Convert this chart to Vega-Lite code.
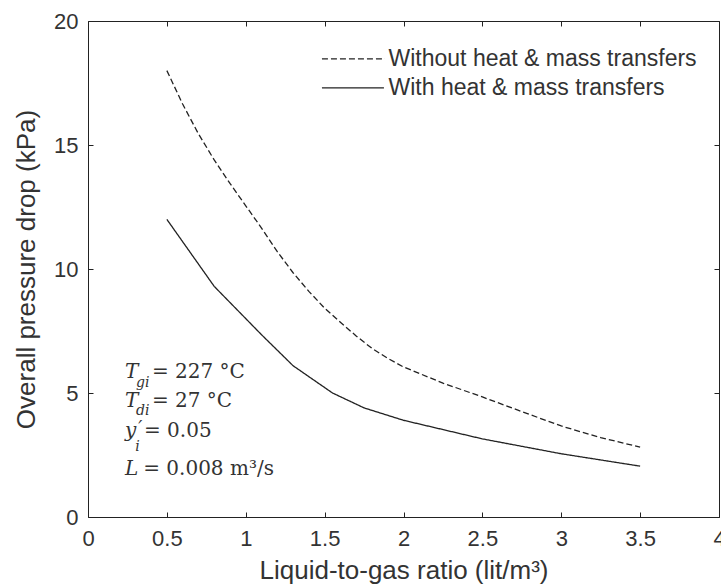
{
  "$schema": "https://vega.github.io/schema/vega-lite/v6.json",
  "autosize": "none",
  "width": 631,
  "height": 496,
  "padding": {"left": 88, "top": 21, "right": 2, "bottom": 71},
  "background": "white",
  "config": {
    "view": {"stroke": "#222", "strokeWidth": 1},
    "font": "Liberation Sans"
  },
  "datasets": {
    "curves": [
      {"ratio": 0.5, "drop": 18.0, "series": "Without heat & mass transfers"},
      {"ratio": 0.6, "drop": 16.65, "series": "Without heat & mass transfers"},
      {"ratio": 0.7, "drop": 15.45, "series": "Without heat & mass transfers"},
      {"ratio": 0.8, "drop": 14.4, "series": "Without heat & mass transfers"},
      {"ratio": 0.9, "drop": 13.45, "series": "Without heat & mass transfers"},
      {"ratio": 1.0, "drop": 12.55, "series": "Without heat & mass transfers"},
      {"ratio": 1.1, "drop": 11.65, "series": "Without heat & mass transfers"},
      {"ratio": 1.2, "drop": 10.7, "series": "Without heat & mass transfers"},
      {"ratio": 1.3, "drop": 9.85, "series": "Without heat & mass transfers"},
      {"ratio": 1.4, "drop": 9.1, "series": "Without heat & mass transfers"},
      {"ratio": 1.5, "drop": 8.42, "series": "Without heat & mass transfers"},
      {"ratio": 1.6, "drop": 7.85, "series": "Without heat & mass transfers"},
      {"ratio": 1.7, "drop": 7.3, "series": "Without heat & mass transfers"},
      {"ratio": 1.8, "drop": 6.8, "series": "Without heat & mass transfers"},
      {"ratio": 1.9, "drop": 6.4, "series": "Without heat & mass transfers"},
      {"ratio": 2.0, "drop": 6.05, "series": "Without heat & mass transfers"},
      {"ratio": 2.25, "drop": 5.4, "series": "Without heat & mass transfers"},
      {"ratio": 2.5, "drop": 4.84, "series": "Without heat & mass transfers"},
      {"ratio": 2.75, "drop": 4.25, "series": "Without heat & mass transfers"},
      {"ratio": 3.0, "drop": 3.67, "series": "Without heat & mass transfers"},
      {"ratio": 3.25, "drop": 3.2, "series": "Without heat & mass transfers"},
      {"ratio": 3.5, "drop": 2.82, "series": "Without heat & mass transfers"},
      {"ratio": 0.5, "drop": 12.0, "series": "With heat & mass transfers"},
      {"ratio": 0.8, "drop": 9.3, "series": "With heat & mass transfers"},
      {"ratio": 1.1, "drop": 7.35, "series": "With heat & mass transfers"},
      {"ratio": 1.3, "drop": 6.1, "series": "With heat & mass transfers"},
      {"ratio": 1.55, "drop": 5.0, "series": "With heat & mass transfers"},
      {"ratio": 1.75, "drop": 4.4, "series": "With heat & mass transfers"},
      {"ratio": 2.0, "drop": 3.9, "series": "With heat & mass transfers"},
      {"ratio": 2.5, "drop": 3.15, "series": "With heat & mass transfers"},
      {"ratio": 3.0, "drop": 2.55, "series": "With heat & mass transfers"},
      {"ratio": 3.5, "drop": 2.05, "series": "With heat & mass transfers"}
    ],
    "one": [{}]
  },
  "layer": [
    {
      "data": {"name": "curves"},
      "mark": {"type": "line", "color": "#222", "strokeWidth": 1.3},
      "encoding": {
        "x": {
          "field": "ratio", "type": "quantitative",
          "scale": {"domain": [0, 4], "nice": false, "zero": false},
          "axis": {
            "orient": "bottom", "values": [0, 0.5, 1, 1.5, 2, 2.5, 3, 3.5, 4],
            "format": "~g",
            "grid": false, "domain": false, "tickSize": -5, "tickColor": "#222",
            "labelFontSize": 22, "labelColor": "#333", "labelPadding": 16,
            "labelFlush": false,
            "title": "Liquid-to-gas ratio (lit/m³)", "titleFontSize": 26,
            "titleFontWeight": "normal", "titleColor": "#333", "titlePadding": 8
          }
        },
        "y": {
          "field": "drop", "type": "quantitative",
          "scale": {"domain": [0, 20], "nice": false},
          "axis": {
            "orient": "left", "values": [0, 5, 10, 15, 20],
            "grid": false, "domain": false, "tickSize": -5, "tickColor": "#222",
            "labelFontSize": 22, "labelColor": "#333", "labelPadding": 15,
            "labelFlush": false,
            "title": "Overall pressure drop (kPa)", "titleFontSize": 26,
            "titleFontWeight": "normal", "titleColor": "#333", "titlePadding": 14
          }
        },
        "strokeDash": {
          "field": "series", "type": "nominal",
          "scale": {
            "domain": ["Without heat & mass transfers", "With heat & mass transfers"],
            "range": [[6, 3], [1, 0]]
          },
          "legend": null
        }
      }
    },
    {
      "data": {"name": "curves"},
      "mark": {"type": "point", "opacity": 0},
      "encoding": {
        "x": {
          "field": "ratio", "type": "quantitative",
          "axis": {
            "orient": "top", "values": [0, 0.5, 1, 1.5, 2, 2.5, 3, 3.5, 4],
            "grid": false, "domain": false, "tickSize": -5, "tickColor": "#222",
            "labels": false, "title": null
          }
        },
        "y": {
          "field": "drop", "type": "quantitative",
          "axis": {
            "orient": "right", "values": [0, 5, 10, 15, 20],
            "grid": false, "domain": false, "tickSize": -5, "tickColor": "#222",
            "labels": false, "title": null
          }
        }
      }
    },
    {
      "data": {"name": "one"},
      "mark": {"type": "rule", "color": "#222", "strokeWidth": 1.3, "strokeDash": [6, 3]},
      "encoding": {
        "x": {"datum": 1.483, "type": "quantitative", "axis": null},
        "x2": {"datum": 1.883},
        "y": {"datum": 18.47, "type": "quantitative", "axis": null}
      }
    },
    {
      "data": {"name": "one"},
      "mark": {"type": "rule", "color": "#222", "strokeWidth": 1.3},
      "encoding": {
        "x": {"datum": 1.483, "type": "quantitative", "axis": null},
        "x2": {"datum": 1.876},
        "y": {"datum": 17.3, "type": "quantitative", "axis": null}
      }
    },
    {
      "data": {"name": "one"},
      "mark": {"type": "text", "fontSize": 23, "align": "left", "baseline": "middle", "color": "#333"},
      "encoding": {
        "x": {"datum": 1.905, "type": "quantitative", "axis": null},
        "y": {"datum": 18.47, "type": "quantitative", "axis": null},
        "text": {"value": "Without heat & mass transfers"}
      }
    },
    {
      "data": {"name": "one"},
      "mark": {"type": "text", "fontSize": 23, "align": "left", "baseline": "middle", "color": "#333"},
      "encoding": {
        "x": {"datum": 1.905, "type": "quantitative", "axis": null},
        "y": {"datum": 17.3, "type": "quantitative", "axis": null},
        "text": {"value": "With heat & mass transfers"}
      }
    },
    {
      "data": {"name": "one"},
      "mark": {"type": "text", "font": "DejaVu Serif", "fontStyle": "italic", "fontSize": 20, "align": "left", "baseline": "alphabetic", "color": "#333"},
      "encoding": {
        "x": {"datum": 0.235, "type": "quantitative", "axis": null},
        "y": {"datum": 5.6, "type": "quantitative", "axis": null},
        "text": {"value": "T"}
      }
    },
    {
      "data": {"name": "one"},
      "mark": {"type": "text", "font": "DejaVu Serif", "fontStyle": "italic", "fontSize": 14, "align": "left", "baseline": "alphabetic", "color": "#333"},
      "encoding": {
        "x": {"datum": 0.305, "type": "quantitative", "axis": null},
        "y": {"datum": 5.24, "type": "quantitative", "axis": null},
        "text": {"value": "gi"}
      }
    },
    {
      "data": {"name": "one"},
      "mark": {"type": "text", "font": "DejaVu Serif", "fontSize": 20, "align": "left", "baseline": "alphabetic", "color": "#333"},
      "encoding": {
        "x": {"datum": 0.405, "type": "quantitative", "axis": null},
        "y": {"datum": 5.6, "type": "quantitative", "axis": null},
        "text": {"value": "= 227 °C"}
      }
    },
    {
      "data": {"name": "one"},
      "mark": {"type": "text", "font": "DejaVu Serif", "fontStyle": "italic", "fontSize": 20, "align": "left", "baseline": "alphabetic", "color": "#333"},
      "encoding": {
        "x": {"datum": 0.235, "type": "quantitative", "axis": null},
        "y": {"datum": 4.44, "type": "quantitative", "axis": null},
        "text": {"value": "T"}
      }
    },
    {
      "data": {"name": "one"},
      "mark": {"type": "text", "font": "DejaVu Serif", "fontStyle": "italic", "fontSize": 14, "align": "left", "baseline": "alphabetic", "color": "#333"},
      "encoding": {
        "x": {"datum": 0.305, "type": "quantitative", "axis": null},
        "y": {"datum": 4.1, "type": "quantitative", "axis": null},
        "text": {"value": "di"}
      }
    },
    {
      "data": {"name": "one"},
      "mark": {"type": "text", "font": "DejaVu Serif", "fontSize": 20, "align": "left", "baseline": "alphabetic", "color": "#333"},
      "encoding": {
        "x": {"datum": 0.405, "type": "quantitative", "axis": null},
        "y": {"datum": 4.44, "type": "quantitative", "axis": null},
        "text": {"value": "= 27 °C"}
      }
    },
    {
      "data": {"name": "one"},
      "mark": {"type": "text", "font": "DejaVu Serif", "fontStyle": "italic", "fontSize": 20, "align": "left", "baseline": "alphabetic", "color": "#333"},
      "encoding": {
        "x": {"datum": 0.235, "type": "quantitative", "axis": null},
        "y": {"datum": 3.23, "type": "quantitative", "axis": null},
        "text": {"value": "y"}
      }
    },
    {
      "data": {"name": "one"},
      "mark": {"type": "text", "font": "DejaVu Serif", "fontStyle": "italic", "fontSize": 18, "align": "left", "baseline": "alphabetic", "color": "#333"},
      "encoding": {
        "x": {"datum": 0.318, "type": "quantitative", "axis": null},
        "y": {"datum": 3.35, "type": "quantitative", "axis": null},
        "text": {"value": "′"}
      }
    },
    {
      "data": {"name": "one"},
      "mark": {"type": "text", "font": "DejaVu Serif", "fontStyle": "italic", "fontSize": 14, "align": "left", "baseline": "alphabetic", "color": "#333"},
      "encoding": {
        "x": {"datum": 0.3, "type": "quantitative", "axis": null},
        "y": {"datum": 2.68, "type": "quantitative", "axis": null},
        "text": {"value": "i"}
      }
    },
    {
      "data": {"name": "one"},
      "mark": {"type": "text", "font": "DejaVu Serif", "fontSize": 20, "align": "left", "baseline": "alphabetic", "color": "#333"},
      "encoding": {
        "x": {"datum": 0.355, "type": "quantitative", "axis": null},
        "y": {"datum": 3.23, "type": "quantitative", "axis": null},
        "text": {"value": "= 0.05"}
      }
    },
    {
      "data": {"name": "one"},
      "mark": {"type": "text", "font": "DejaVu Serif", "fontStyle": "italic", "fontSize": 20, "align": "left", "baseline": "alphabetic", "color": "#333"},
      "encoding": {
        "x": {"datum": 0.235, "type": "quantitative", "axis": null},
        "y": {"datum": 1.69, "type": "quantitative", "axis": null},
        "text": {"value": "L"}
      }
    },
    {
      "data": {"name": "one"},
      "mark": {"type": "text", "font": "DejaVu Serif", "fontSize": 20, "align": "left", "baseline": "alphabetic", "color": "#333"},
      "encoding": {
        "x": {"datum": 0.35, "type": "quantitative", "axis": null},
        "y": {"datum": 1.69, "type": "quantitative", "axis": null},
        "text": {"value": "= 0.008 m³/s"}
      }
    }
  ],
  "resolve": {"axis": {"x": "independent", "y": "independent"}}
}
